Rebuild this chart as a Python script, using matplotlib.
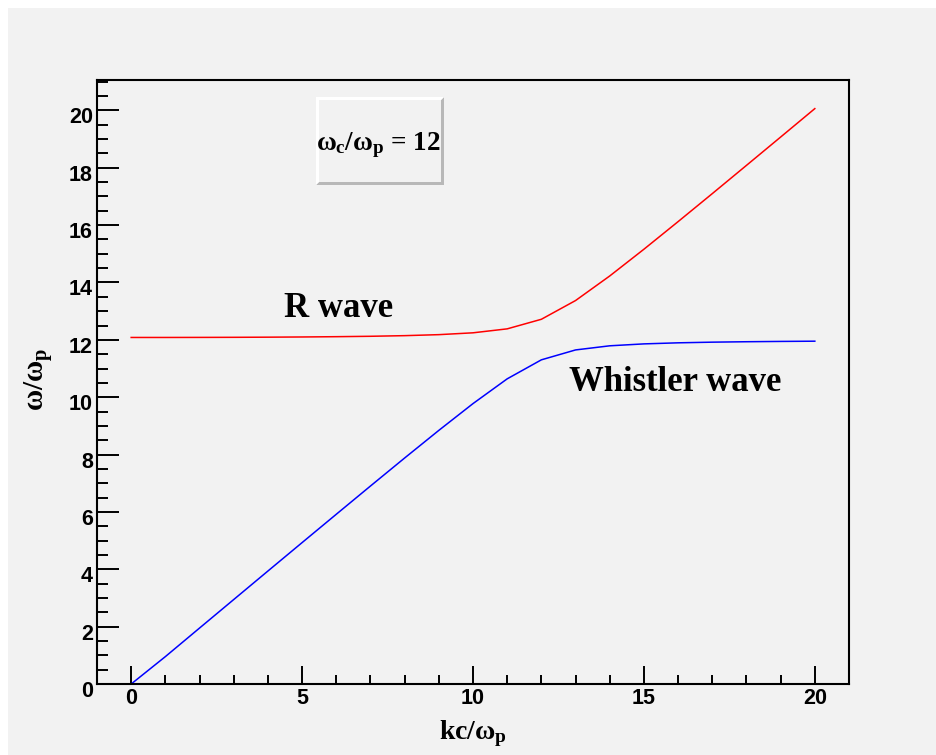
import matplotlib
matplotlib.use("Agg")
import matplotlib.pyplot as plt
import matplotlib.transforms as mtransforms
from matplotlib.patches import Rectangle, Polygon
from matplotlib.ticker import FixedLocator, MultipleLocator

# Dispersion curves of the right-hand polarised wave (omega_c/omega_p = 12)
kc = [0, 1, 2, 3, 4, 5, 6, 7, 8, 9, 10, 11, 12, 13, 14, 15, 16, 17, 18, 19, 20]
r_wave = [12.083, 12.083, 12.085, 12.088, 12.093, 12.100, 12.110, 12.124,
          12.146, 12.181, 12.245, 12.383, 12.717, 13.370, 14.227, 15.159,
          16.122, 17.098, 18.083, 19.071, 20.062]
whistler = [0.000, 0.955, 1.951, 2.945, 3.939, 4.930, 5.918, 6.903, 7.880,
            8.843, 9.777, 10.640, 11.303, 11.648, 11.792, 11.859, 11.896,
            11.919, 11.934, 11.945, 11.953]

x_ticks = [0, 5, 10, 15, 20]
y_ticks = [0, 2, 4, 6, 8, 10, 12, 14, 16, 18, 20]

plt.rcParams["mathtext.fontset"] = "custom"
plt.rcParams["mathtext.rm"] = "Liberation Serif:bold"
plt.rcParams["mathtext.it"] = "Liberation Serif:bold"
plt.rcParams["mathtext.bf"] = "Liberation Serif:bold"

W, H, DPI = 936, 755, 100
fig = plt.figure(figsize=(W / DPI, H / DPI), dpi=DPI, facecolor="white")
bg = "#f2f2f2"

# canvas fill with a thin white margin on the top and left
fig.add_artist(Rectangle((8 / W, 0), 1 - 8 / W, 1 - 8 / H,
                         transform=fig.transFigure, facecolor=bg,
                         edgecolor="none", zorder=0))

ax = fig.add_axes([97 / W, 71 / H, 752 / W, 604 / H])
ax.set_facecolor(bg)

ax.plot(kc, r_wave, color="#ff0000", lw=1.1)
ax.plot(kc, whistler, color="#0000ff", lw=1.1)

ax.set_xlim(-1, 21)
ax.set_ylim(0, 21.06)

for s in ax.spines.values():
    s.set_linewidth(1.5)

ax.xaxis.set_major_locator(FixedLocator(x_ticks))
ax.xaxis.set_minor_locator(MultipleLocator(1))
ax.yaxis.set_major_locator(FixedLocator(y_ticks))
ax.yaxis.set_minor_locator(MultipleLocator(0.5))
ax.set_xticklabels([str(v) for v in x_ticks])
ax.set_yticklabels([str(v) for v in y_ticks])

ax.tick_params(axis="x", which="major", direction="in", length=13, width=1.4, pad=3)
ax.tick_params(axis="x", which="minor", direction="in", length=6.5, width=1.4)
ax.tick_params(axis="y", which="major", direction="in", length=16, width=1.4, pad=3)
ax.tick_params(axis="y", which="minor", direction="in", length=8, width=1.4)
ax.tick_params(top=False, right=False, which="both")

for lab in ax.get_xticklabels() + ax.get_yticklabels():
    lab.set_fontfamily("Liberation Sans")
    lab.set_fontweight("bold")
    lab.set_fontsize(15.5)

shift = mtransforms.ScaledTranslation(0, -5 / DPI, fig.dpi_scale_trans)
for lab in ax.get_yticklabels():
    lab.set_transform(lab.get_transform() + shift)

ax.set_xlabel(r"$\mathrm{kc/\omega_p}$", fontsize=20)
ax.xaxis.set_label_coords(0.5, -0.056)
ax.set_ylabel(r"$\omega/\omega_p$", fontsize=21)
ax.yaxis.set_label_coords(-0.056, 0.505)

ax.text(4.48, 12.8, "R wave", fontfamily="Liberation Serif", fontweight="bold",
        fontsize=25, va="baseline", ha="left")
ax.text(12.82, 10.22, "Whistler wave", fontfamily="Liberation Serif",
        fontweight="bold", fontsize=25, va="baseline", ha="left")

# raised parameter box
x0, x1 = 316, 444
y0, y1 = H - 185, H - 97
b = 3
fig.add_artist(Rectangle((x0, y0), x1 - x0, y1 - y0, transform=None,
                         facecolor=bg, edgecolor="none", zorder=3))
fig.add_artist(Polygon([(x0, y0), (x1, y0), (x1, y1), (x1 - b, y1 - b),
                        (x1 - b, y0 + b), (x0 + b, y0 + b)], closed=True,
                       transform=None, facecolor="#b8b8b8", edgecolor="none",
                       zorder=4))
fig.add_artist(Polygon([(x0, y0), (x0, y1), (x1, y1), (x1 - b, y1 - b),
                        (x0 + b, y1 - b), (x0 + b, y0 + b)], closed=True,
                       transform=None, facecolor="#ffffff", edgecolor="none",
                       zorder=4))
fig.text((x0 + x1) / 2 / W - 0.002, (y0 + y1) / 2 / H - 0.006,
         r"$\omega_c/\omega_p$ = 12", fontfamily="Liberation Serif",
         fontweight="bold", fontsize=19.5, ha="center", va="center", zorder=5)

fig.savefig("out.png", dpi=DPI, facecolor=fig.get_facecolor())
